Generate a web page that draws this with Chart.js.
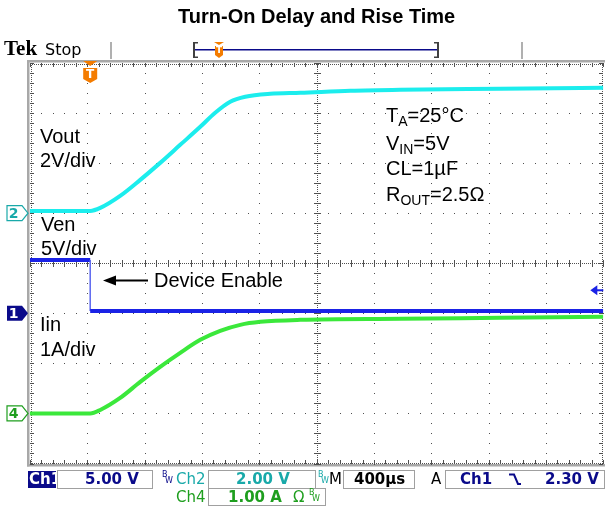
<!DOCTYPE html>
<html><head><meta charset="utf-8">
<script src="https://cdn.jsdelivr.net/npm/chart.js@4/dist/chart.umd.min.js"></script>
<style>html,body{margin:0;padding:0;background:#fff;}canvas{display:block;}</style>
</head><body>
<canvas id="c" width="605" height="506"></canvas>
<script>
// ---- data (time in µs, trigger at 0) ----
const timeRangeUs = [-420, 3580];
const voutTimeUs = [-420, 0, 70, 209, 349, 488, 628, 768, 872, 977, 1082, 1256, 1466, 1815, 2164, 2862, 3580];
const voutVolts  = [0.09, 0.09, 0.21, 0.69, 1.33, 2.01, 2.73, 3.45, 4.01, 4.45, 4.65, 4.77, 4.81, 4.89, 4.93, 4.97, 5.01];
const venTimeUs  = [-420, 0, 0, 3580];
const venVolts   = [5.33, 5.33, 0.23, 0.23];
const iinTimeUs  = [-420, 0, 70, 209, 349, 488, 628, 768, 907, 1047, 1187, 1466, 2164, 2862, 3580];
const iinAmps    = [0, 0, 0.07, 0.31, 0.63, 0.93, 1.21, 1.47, 1.65, 1.77, 1.83, 1.87, 1.89, 1.91, 1.93];
const unitsPerDiv = {ven: 5, vout: 2, iin: 1};
const groundDiv   = {ven: -1, vout: 1, iin: -3};
const triggerLevelVolts = 2.30;
const traceLabels = ['Vout', 'Ven', 'Iin'];

function toDiv(times, vals, key){
  return times.map((t,i)=>({x:t, y: groundDiv[key] + vals[i]/unitsPerDiv[key]}));
}

const COL = {vout:'#1CEDED', ven:'#1A22E6', iin:'#3BE83B', navy:'#0A0A8A', teal:'#19A9A9', green:'#1E9E1E', orange:'#F47C00'};

const scopePlugin = {
  id:'scope',
  beforeDatasetsDraw(chart){
    const ctx = chart.ctx, a = chart.chartArea;
    const L=a.left, R=a.right, T=a.top, B=a.bottom;
    const dx=(R-L)/10, dy=(B-T)/8;
    ctx.save();
    ctx.fillStyle='#a8a8a8';
    ctx.fillRect(L-3, T-3, R-L+6, 2.5);
    ctx.fillRect(L-3, T-3, 2.5, B-T+6);
    ctx.fillRect(L-3, B+0.5, R-L+6, 2.5);
    ctx.fillStyle='#505050';
    for(let i=1;i<10;i++){ if(i===5) continue;
      const x=Math.round(L+i*dx);
      for(let j=0;j<=40;j++){ ctx.fillRect(x, Math.round(T+j*dy/5), 1, 1); }
    }
    for(let j=1;j<8;j++){ if(j===4) continue;
      const y=Math.round(T+j*dy);
      for(let i=0;i<=50;i++){ ctx.fillRect(Math.round(L+i*dx/5), y, 1, 1); }
    }
    const cx=Math.round(L+5*dx), cy=Math.round(T+4*dy);
    for(let y=T;y<=B;y+=2) ctx.fillRect(cx, Math.round(y), 1, 1);
    for(let x=L;x<=R;x+=2) ctx.fillRect(Math.round(x), cy, 1, 1);
    for(let j=0;j<=40;j++){ const y=Math.round(T+j*dy/5); ctx.fillRect(cx-3, y, 7, 1); }
    for(let i=0;i<=50;i++){ const x=Math.round(L+i*dx/5); ctx.fillRect(x, cy-3, 1, 7); }
    for(let i=0;i<=50;i++){ const x=Math.round(L+i*dx/5);
      ctx.fillRect(x, Math.round(T), 1, 4); ctx.fillRect(x, Math.round(B)-4, 1, 4); }
    for(let j=0;j<=40;j++){ const y=Math.round(T+j*dy/5);
      ctx.fillRect(Math.round(L), y, 4, 1); ctx.fillRect(Math.round(R)-4, y, 4, 1); }
    for(let x=L;x<=R;x+=2){ ctx.fillRect(Math.round(x), Math.round(T)+1, 1, 1); ctx.fillRect(Math.round(x), Math.round(B)-1, 1, 1); }
    for(let y=T;y<=B;y+=2){ ctx.fillRect(Math.round(L)+1, Math.round(y), 1, 1); ctx.fillRect(Math.round(R)-1, Math.round(y), 1, 1); }
    ctx.restore();
  },
  afterDraw(chart){
    const ctx=chart.ctx, a=chart.chartArea, xs=chart.scales.x, ys=chart.scales.y;
    ctx.save();
    const F='"Liberation Sans", Arial, sans-serif';
    function marker(key, label, filled, color){
      const y=ys.getPixelForValue(groundDiv[key]);
      const tip=a.left-2, w=21, h=15;
      ctx.beginPath();
      ctx.moveTo(tip-w, y-h/2); ctx.lineTo(tip-6, y-h/2); ctx.lineTo(tip, y); ctx.lineTo(tip-6, y+h/2); ctx.lineTo(tip-w, y+h/2); ctx.closePath();
      if(filled){ ctx.fillStyle=color; ctx.fill(); }
      else { ctx.fillStyle='#fff'; ctx.fill(); ctx.strokeStyle=color; ctx.lineWidth=1.2; ctx.stroke(); }
      ctx.fillStyle=filled?'#fff':color;
      ctx.font='bold 14px "DejaVu Sans", sans-serif'; ctx.textAlign='center'; ctx.textBaseline='middle';
      ctx.fillText(label, tip-w/2-4, y+1);
    }
    marker('vout','2',false,COL.teal);
    marker('ven','1',true,COL.navy);
    marker('iin','4',false,COL.green);
    const tx=xs.getPixelForValue(0);
    ctx.fillStyle=COL.orange;
    ctx.beginPath(); ctx.moveTo(tx-7,a.top-2); ctx.lineTo(tx+7,a.top-2); ctx.lineTo(tx,a.top+3); ctx.closePath(); ctx.fill();
    ctx.beginPath(); ctx.moveTo(tx-7,a.top+5); ctx.lineTo(tx+7,a.top+5); ctx.lineTo(tx+7,a.top+16); ctx.lineTo(tx,a.top+20); ctx.lineTo(tx-7,a.top+16); ctx.closePath(); ctx.fill();
    ctx.fillStyle='#fff'; ctx.font='bold 12px "DejaVu Sans", sans-serif'; ctx.textAlign='center'; ctx.textBaseline='middle';
    ctx.fillText('T', tx, a.top+12);
    const ty=ys.getPixelForValue(groundDiv.ven + triggerLevelVolts/unitsPerDiv.ven);
    ctx.fillStyle=COL.ven;
    ctx.beginPath(); ctx.moveTo(a.right-13,ty); ctx.lineTo(a.right-6,ty-5); ctx.lineTo(a.right-6,ty+5); ctx.closePath(); ctx.fill();
    ctx.fillRect(a.right-7, ty-1, 7, 2);
    ctx.fillStyle='#000'; ctx.textAlign='left'; ctx.textBaseline='alphabetic';
    ctx.font='20px '+F;
    ctx.fillText(traceLabels[0], 40, 143); ctx.fillText('2V/div', 40, 167);
    ctx.fillText(traceLabels[1], 41, 231); ctx.fillText('5V/div', 41, 255);
    ctx.fillText(traceLabels[2], 40, 331); ctx.fillText('1A/div', 40, 356);
    ctx.fillText('Device Enable', 154, 287);
    ctx.fillRect(110, 279.5, 38, 2);
    ctx.beginPath(); ctx.moveTo(103,280.5); ctx.lineTo(116,275.5); ctx.lineTo(116,285.5); ctx.closePath(); ctx.fill();
    function sub(x, y, main, s, rest){
      ctx.font='20px '+F; ctx.fillText(main, x, y); x+=ctx.measureText(main).width;
      ctx.font='14px '+F; ctx.fillText(s, x, y+4); x+=ctx.measureText(s).width;
      ctx.font='20px '+F; ctx.fillText(rest, x, y);
    }
    sub(386, 122, 'T', 'A', '=25°C');
    sub(386, 150, 'V', 'IN', '=5V');
    ctx.font='20px '+F; ctx.fillText('CL=1µF', 386, 175);
    sub(386, 201, 'R', 'OUT', '=2.5Ω');
    // top status bar
    ctx.font='bold 21px "Liberation Serif", "DejaVu Serif", serif'; ctx.fillStyle='#000';
    ctx.fillText('Tek', 4, 55);
    ctx.font='16px "DejaVu Sans", sans-serif'; ctx.fillText('Stop', 45, 55);
    ctx.fillStyle='#b0b0b0'; ctx.fillRect(110, 42, 2, 17); ctx.fillRect(521, 42, 2, 17);
    ctx.fillStyle=COL.navy; ctx.fillRect(195, 49, 243, 1.5);
    ctx.fillStyle='#404040';
    ctx.fillRect(193, 42, 2, 16); ctx.fillRect(193,42,5,1.5); ctx.fillRect(193,56.5,5,1.5);
    ctx.fillRect(437, 42, 2, 16); ctx.fillRect(434,42,5,1.5); ctx.fillRect(434,56.5,5,1.5);
    ctx.fillStyle=COL.orange;
    ctx.beginPath(); ctx.moveTo(214,42); ctx.lineTo(224,42); ctx.lineTo(219,45); ctx.closePath(); ctx.fill();
    ctx.beginPath(); ctx.moveTo(215,46); ctx.lineTo(223,46); ctx.lineTo(223,55); ctx.lineTo(219,58); ctx.lineTo(215,55); ctx.closePath(); ctx.fill();
    ctx.fillStyle='#fff'; ctx.font='bold 9px "DejaVu Sans", sans-serif'; ctx.textAlign='center'; ctx.textBaseline='middle';
    ctx.fillText('T', 219, 51);
    // bottom status bar
    ctx.textBaseline='middle'; ctx.textAlign='left';
    const BF='15px "DejaVu Sans", sans-serif';
    function box(x1, y1, x2, y2){ ctx.strokeStyle='#a0a0a0'; ctx.lineWidth=1; ctx.strokeRect(x1+0.5, y1+0.5, x2-x1, y2-y1); }
    function bw(x, y, c){ ctx.fillStyle=c; ctx.font='8px "DejaVu Sans", sans-serif'; ctx.textBaseline='alphabetic'; ctx.fillText('B', x, y-2); ctx.fillText('W', x+3, y+4); ctx.textBaseline='middle'; }
    const r1=479, r2=497;
    ctx.fillStyle=COL.navy; ctx.fillRect(28, 471, 28, 17);
    ctx.fillStyle='#fff'; ctx.font='bold 15px "DejaVu Sans", sans-serif'; ctx.fillText('Ch1', 29, r1+1);
    box(57, 470, 152, 488);
    ctx.fillStyle=COL.navy; ctx.font='bold '+BF; ctx.fillText('5.00 V', 85, r1+1);
    bw(162, r1, COL.navy);
    ctx.fillStyle=COL.teal; ctx.font=BF; ctx.fillText('Ch2', 176, r1+1);
    box(208, 470, 315, 488);
    ctx.font='bold '+BF; ctx.fillText('2.00 V', 236, r1+1);
    bw(318, r1, COL.teal);
    ctx.fillStyle='#000'; ctx.font=BF; ctx.fillText('M', 329, r1+1);
    box(343, 470, 414, 488);
    ctx.font='bold '+BF; ctx.fillText('400µs', 354, r1+1);
    ctx.font=BF; ctx.fillText('A', 431, r1+1);
    box(445, 470, 604, 488);
    ctx.fillStyle=COL.navy; ctx.font='bold '+BF; ctx.fillText('Ch1', 460, r1+1);
    ctx.strokeStyle=COL.navy; ctx.lineWidth=2; ctx.beginPath(); ctx.moveTo(509,474.5); ctx.lineTo(514,474.5); ctx.lineTo(518,484); ctx.lineTo(521,484); ctx.stroke();
    ctx.fillText('2.30 V', 545, r1+1);
    ctx.fillStyle=COL.green; ctx.font=BF; ctx.fillText('Ch4', 176, r2+1);
    box(208, 488, 325, 505);
    ctx.font='bold '+BF; ctx.fillText('1.00 A', 228, r2+1);
    ctx.font=BF; ctx.fillText('Ω', 293, r2+1);
    bw(309, r2, COL.green);
    ctx.restore();
  }
};

const chart = new Chart(document.getElementById('c'), {
  type:'line',
  data:{ datasets:[
    {label:traceLabels[1], data:toDiv(venTimeUs, venVolts, 'ven'), borderColor:COL.ven, borderWidth:4, pointRadius:0, tension:0,
     segment:{borderWidth:c=>c.p0.parsed.x===c.p1.parsed.x?1.5:4, borderColor:c=>c.p0.parsed.x===c.p1.parsed.x?'#5a66f0':COL.ven}},
    {label:traceLabels[0], data:toDiv(voutTimeUs, voutVolts, 'vout'), borderColor:COL.vout, borderWidth:4, pointRadius:0, cubicInterpolationMode:'monotone'},
    {label:traceLabels[2], data:toDiv(iinTimeUs, iinAmps, 'iin'), borderColor:COL.iin, borderWidth:4, pointRadius:0, cubicInterpolationMode:'monotone'}
  ]},
  options:{
    responsive:false, animation:false, devicePixelRatio:1,
    layout:{padding:{left:30, right:1.7, top:0, bottom:42.5}},
    plugins:{
      legend:{display:false}, tooltip:{enabled:false},
      title:{display:true, text:'Turn-On Delay and Rise Time', color:'#000', font:{family:'"Liberation Sans", Arial, sans-serif', size:20, weight:'bold', lineHeight:1.2}, padding:{top:5, bottom:34}}
    },
    scales:{
      x:{type:'linear', min:timeRangeUs[0], max:timeRangeUs[1], display:false},
      y:{type:'linear', min:-4, max:4, display:false}
    }
  },
  plugins:[scopePlugin]
});
</script>
</body></html>
